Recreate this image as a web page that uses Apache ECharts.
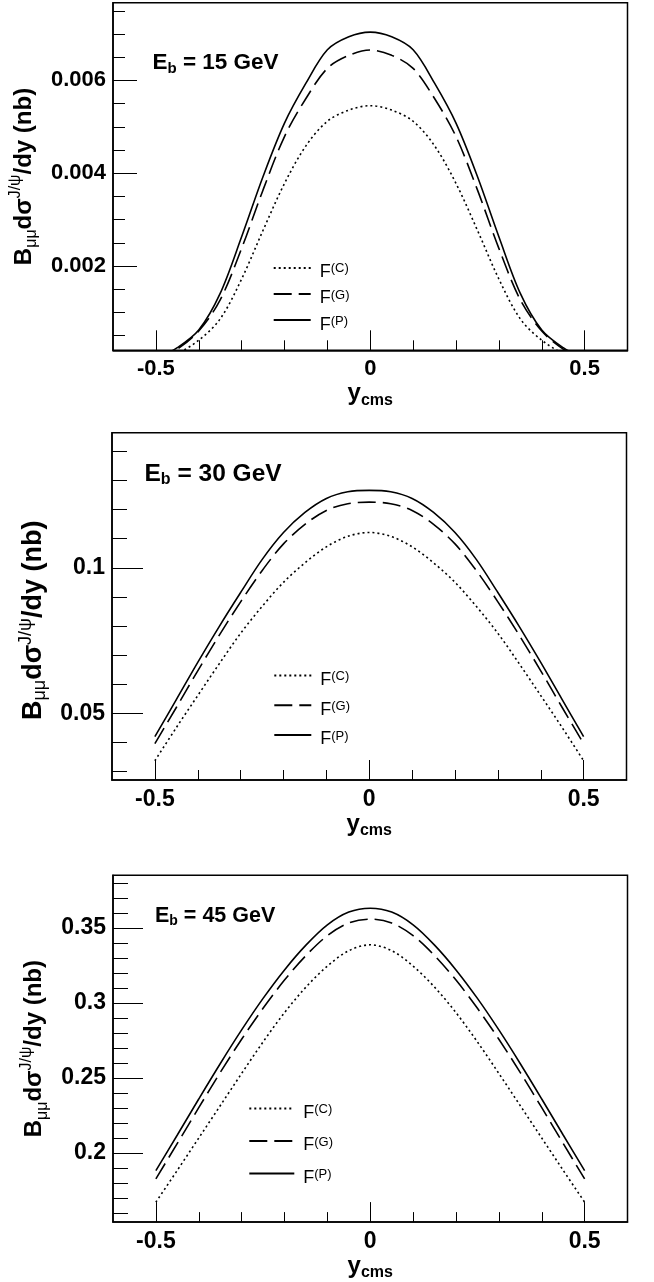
<!DOCTYPE html>
<html>
<head>
<meta charset="utf-8">
<script src="https://cdn.jsdelivr.net/npm/echarts@6/dist/echarts.min.js"></script>
<style>
  html, body { margin: 0; padding: 0; background: #ffffff; }
  #chart { width: 654px; height: 1282px; }
</style>
</head>
<body>
<div id="chart"></div>
<script>
// Rapidity grid (y_cms)
const yCms = [-0.5, -0.45, -0.4, -0.35, -0.3, -0.25, -0.2, -0.15, -0.1, -0.05, 0,
              0.05, 0.1, 0.15, 0.2, 0.25, 0.3, 0.35, 0.4, 0.45, 0.5];

// E_b = 15 GeV, B dσ/dy (nb)
const fC15 = [0.0, 0.00012, 0.00040, 0.00086, 0.00172, 0.00277, 0.00378, 0.00459, 0.00512, 0.00536, 0.005455,
              0.00536, 0.00512, 0.00459, 0.00378, 0.00277, 0.00172, 0.00086, 0.00040, 0.00012, 0.0];
const fG15 = [0.0, 0.00021, 0.00060, 0.00127, 0.00238, 0.00364, 0.00479, 0.00561, 0.00626, 0.00654, 0.006655,
              0.00654, 0.00626, 0.00561, 0.00479, 0.00364, 0.00238, 0.00127, 0.00060, 0.00021, 0.0];
const fP15 = [0.0, 0.00024, 0.00062, 0.00141, 0.00263, 0.00393, 0.00508, 0.00594, 0.00666, 0.00694, 0.00704,
              0.00694, 0.00666, 0.00594, 0.00508, 0.00393, 0.00263, 0.00141, 0.00062, 0.00024, 0.0];

// E_b = 30 GeV
const fC30 = [0.0337, 0.0451, 0.0561, 0.0670, 0.0775, 0.0867, 0.0950, 0.1017, 0.1072, 0.1108, 0.11213,
              0.1108, 0.1072, 0.1017, 0.0950, 0.0867, 0.0775, 0.0670, 0.0561, 0.0451, 0.0337];
const fG30 = [0.0396, 0.0520, 0.0646, 0.0768, 0.0883, 0.0990, 0.1082, 0.1149, 0.1197, 0.1220, 0.12255,
              0.1220, 0.1197, 0.1149, 0.1082, 0.0990, 0.0883, 0.0768, 0.0646, 0.0520, 0.0396];
const fP30 = [0.0420, 0.0547, 0.0675, 0.0798, 0.0915, 0.1028, 0.1121, 0.1190, 0.1238, 0.1261, 0.1266,
              0.1261, 0.1238, 0.1190, 0.1121, 0.1028, 0.0915, 0.0798, 0.0675, 0.0547, 0.0420];

// E_b = 45 GeV
const fC45 = [0.1673, 0.1885, 0.2100, 0.2315, 0.2530, 0.2740, 0.2935, 0.3105, 0.3245, 0.3348, 0.3387,
              0.3348, 0.3245, 0.3105, 0.2935, 0.2740, 0.2530, 0.2315, 0.2100, 0.1885, 0.1673];
const fG45 = [0.1828, 0.2064, 0.2302, 0.2536, 0.2758, 0.2964, 0.3152, 0.3315, 0.3448, 0.3532, 0.3558,
              0.3532, 0.3448, 0.3315, 0.3152, 0.2964, 0.2758, 0.2536, 0.2302, 0.2064, 0.1828];
const fP45 = [0.1883, 0.2120, 0.2360, 0.2595, 0.2820, 0.3030, 0.3220, 0.3385, 0.3520, 0.3605, 0.3631,
              0.3605, 0.3520, 0.3385, 0.3220, 0.3030, 0.2820, 0.2595, 0.2360, 0.2120, 0.1883];

// Series names (legend entries) and beam energies
const seriesNames = ['F(C)', 'F(G)', 'F(P)'];
const beamLabels = ['15 GeV', '30 GeV', '45 GeV'];

// Axis ranges and tick values
const xRange = [-0.6, 0.6];
const xMajorTicks = [-0.5, 0, 0.5];
const xMinorTicks = [-0.4, -0.3, -0.2, -0.1, 0.1, 0.2, 0.3, 0.4];

const yRange15 = [0.000183, 0.007675];
const yMajor15 = [0.002, 0.004, 0.006];
const yMinor15 = [0.0005, 0.001, 0.0015, 0.0025, 0.003, 0.0035, 0.0045, 0.005, 0.0055, 0.0065, 0.007, 0.0075];

const yRange30 = [0.0271, 0.1464];
const yMajor30 = [0.05, 0.1];
const yMinor30 = [0.03, 0.04, 0.06, 0.07, 0.08, 0.09, 0.11, 0.12, 0.13, 0.14];

const yRange45 = [0.154, 0.385];
const yMajor45 = [0.2, 0.25, 0.3, 0.35];
const yMinor45 = [0.16, 0.17, 0.18, 0.19, 0.21, 0.22, 0.23, 0.24, 0.26, 0.27, 0.28, 0.29,
                  0.31, 0.32, 0.33, 0.34, 0.36, 0.37, 0.38];

const FONT = '"Liberation Sans", Arial, Helvetica, sans-serif';

// Per-panel layout
const panels = [
  { data: [fC15, fG15, fP15], yRange: yRange15, yMajor: yMajor15, yMinor: yMinor15,
    grid: { left: 113, top: 2.7, width: 514.5, height: 347.6 },
    tickFont: 22, yMajorLen: 24, yMinorLen: 12, yNameGap: 58, yNameFont: 24, yNameShift: 0,
    xNameGap: 22,
    eb: { left: 152.5, top: 49.5, size: 22.5, sub: 15 },
    legend: { left: 272.7, top: 262.3, gap: 7, width: 37 } },
  { data: [fC30, fG30, fP30], yRange: yRange30, yMajor: yMajor30, yMinor: yMinor30,
    grid: { left: 112, top: 432.7, width: 514.5, height: 347.3 },
    tickFont: 23, yMajorLen: 31, yMinorLen: 15, yNameGap: 44, yNameFont: 27, yNameShift: 28,
    xNameGap: 20,
    eb: { left: 144.5, top: 459.5, size: 24.5, sub: 16 },
    legend: { left: 273.3, top: 670, gap: 10.6, width: 37 } },
  { data: [fC45, fG45, fP45], yRange: yRange45, yMajor: yMajor45, yMinor: yMinor45,
    grid: { left: 113, top: 875.3, width: 514.5, height: 348 },
    tickFont: 23, yMajorLen: 30, yMinorLen: 15, yNameGap: 48, yNameFont: 24, yNameShift: 0,
    xNameGap: 20,
    eb: { left: 155, top: 903, size: 21.5, sub: 14 },
    legend: { left: 248.3, top: 1103, gap: 13.3, width: 45 } }
];

const lineTypes = [[2, 3], [18, 7], 'solid'];

const fmt = v => String(+Number(v).toFixed(4));

const grids = [], xAxes = [], yAxes = [], series = [], titles = [], legends = [];

panels.forEach((p, i) => {
  grids.push(Object.assign({ show: true, borderColor: '#000', borderWidth: 1.5,
    backgroundColor: 'transparent' }, p.grid));

  // x axis: major ticks, labels and title
  xAxes.push({
    type: 'value', gridIndex: i, position: 'bottom', min: xRange[0], max: xRange[1],
    axisLine: { show: true, onZero: false, lineStyle: { color: '#000', width: 1.5 } },
    axisTick: { show: true, inside: true, length: 20, customValues: xMajorTicks,
                lineStyle: { color: '#000', width: 1 } },
    axisLabel: { show: true, customValues: xMajorTicks, formatter: fmt, margin: 8,
                 fontSize: p.tickFont, fontWeight: 'bold', fontFamily: FONT, color: '#000' },
    splitLine: { show: false },
    name: '{y|y}{s|cms}', nameLocation: 'middle', nameGap: p.xNameGap,
    nameTextStyle: { rich: {
      y: { fontSize: 24, fontWeight: 'bold', fontFamily: FONT, color: '#000', lineHeight: 30 },
      s: { fontSize: 16, fontWeight: 'bold', fontFamily: FONT, color: '#000', lineHeight: 10, verticalAlign: 'bottom' }
    } }
  });
  // x axis: minor ticks
  xAxes.push({
    type: 'value', gridIndex: i, position: 'bottom', min: xRange[0], max: xRange[1],
    axisLine: { show: false, onZero: false },
    axisTick: { show: true, inside: true, length: 10, customValues: xMinorTicks,
                lineStyle: { color: '#000', width: 1 } },
    axisLabel: { show: false }, splitLine: { show: false }
  });

  const yf = p.yNameFont, ys = Math.round(yf * 0.65);
  // y axis: major ticks, labels and title
  yAxes.push({
    type: 'value', gridIndex: i, position: 'left', min: p.yRange[0], max: p.yRange[1],
    axisLine: { show: true, onZero: false, lineStyle: { color: '#000', width: 1.5 } },
    axisTick: { show: true, inside: true, length: p.yMajorLen, customValues: p.yMajor,
                lineStyle: { color: '#000', width: 1 } },
    axisLabel: { show: true, customValues: p.yMajor, formatter: fmt, margin: 7,
                 fontSize: p.tickFont, fontWeight: 'bold', fontFamily: FONT, color: '#000' },
    splitLine: { show: false },
    name: '{b|B}{sub|μμ}{b|dσ}{sup|J/ψ}{b|/dy (nb)}',
    nameLocation: 'middle', nameRotate: 90, nameGap: p.yNameGap,
    nameTextStyle: {
      padding: [0, p.yNameShift, 0, 0],
      rich: {
        b: { fontSize: yf, fontWeight: 'bold', fontFamily: FONT, color: '#000', lineHeight: 32 },
        sub: { fontSize: ys, fontFamily: FONT, color: '#000', lineHeight: 12, verticalAlign: 'bottom' },
        sup: { fontSize: ys, fontFamily: FONT, color: '#000', lineHeight: 20, verticalAlign: 'top' }
      }
    }
  });
  // y axis: minor ticks
  yAxes.push({
    type: 'value', gridIndex: i, position: 'left', min: p.yRange[0], max: p.yRange[1],
    axisLine: { show: false, onZero: false },
    axisTick: { show: true, inside: true, length: p.yMinorLen, customValues: p.yMinor,
                lineStyle: { color: '#000', width: 1 } },
    axisLabel: { show: false }, splitLine: { show: false }
  });

  p.data.forEach((vals, k) => {
    series.push({
      type: 'line', name: seriesNames[k], xAxisIndex: 2 * i, yAxisIndex: 2 * i,
      data: yCms.map((x, j) => [x, vals[j]]),
      smooth: 0.33, symbol: 'none', showSymbol: false, clip: true,
      lineStyle: { color: '#000', width: 1.6, type: lineTypes[k] },
      itemStyle: { color: '#000' },
      emphasis: { disabled: true }, silent: true, z: 3
    });
  });

  titles.push({
    text: '{m|E}{s|b}{m| = ' + beamLabels[i] + '}',
    left: p.eb.left, top: p.eb.top, padding: 0,
    textStyle: { rich: {
      m: { fontSize: p.eb.size, fontWeight: 'bold', fontFamily: FONT, color: '#000', lineHeight: p.eb.size + 4 },
      s: { fontSize: p.eb.sub, fontWeight: 'bold', fontFamily: FONT, color: '#000', lineHeight: 9, verticalAlign: 'bottom' }
    } }
  });

  legends.push({
    orient: 'vertical', left: p.legend.left, top: p.legend.top, padding: 0,
    itemGap: p.legend.gap, itemWidth: p.legend.width, itemHeight: 14,
    selectedMode: false, data: seriesNames,
    itemStyle: { opacity: 0 },
    formatter: n => '{m|F}{s|' + n.slice(1) + '}',
    textStyle: {
      padding: [9, 0, 0, 4],
      rich: {
        m: { fontSize: 18, fontFamily: FONT, color: '#000', lineHeight: 20 },
        s: { fontSize: 13, fontFamily: FONT, color: '#000', lineHeight: 8, verticalAlign: 'top' }
      }
    }
  });
});

const chart = echarts.init(document.getElementById('chart'), null, { renderer: 'canvas' });
chart.setOption({
  animation: false,
  backgroundColor: '#ffffff',
  title: titles,
  legend: legends,
  grid: grids,
  xAxis: xAxes,
  yAxis: yAxes,
  series: series
});
</script>
</body>
</html>
